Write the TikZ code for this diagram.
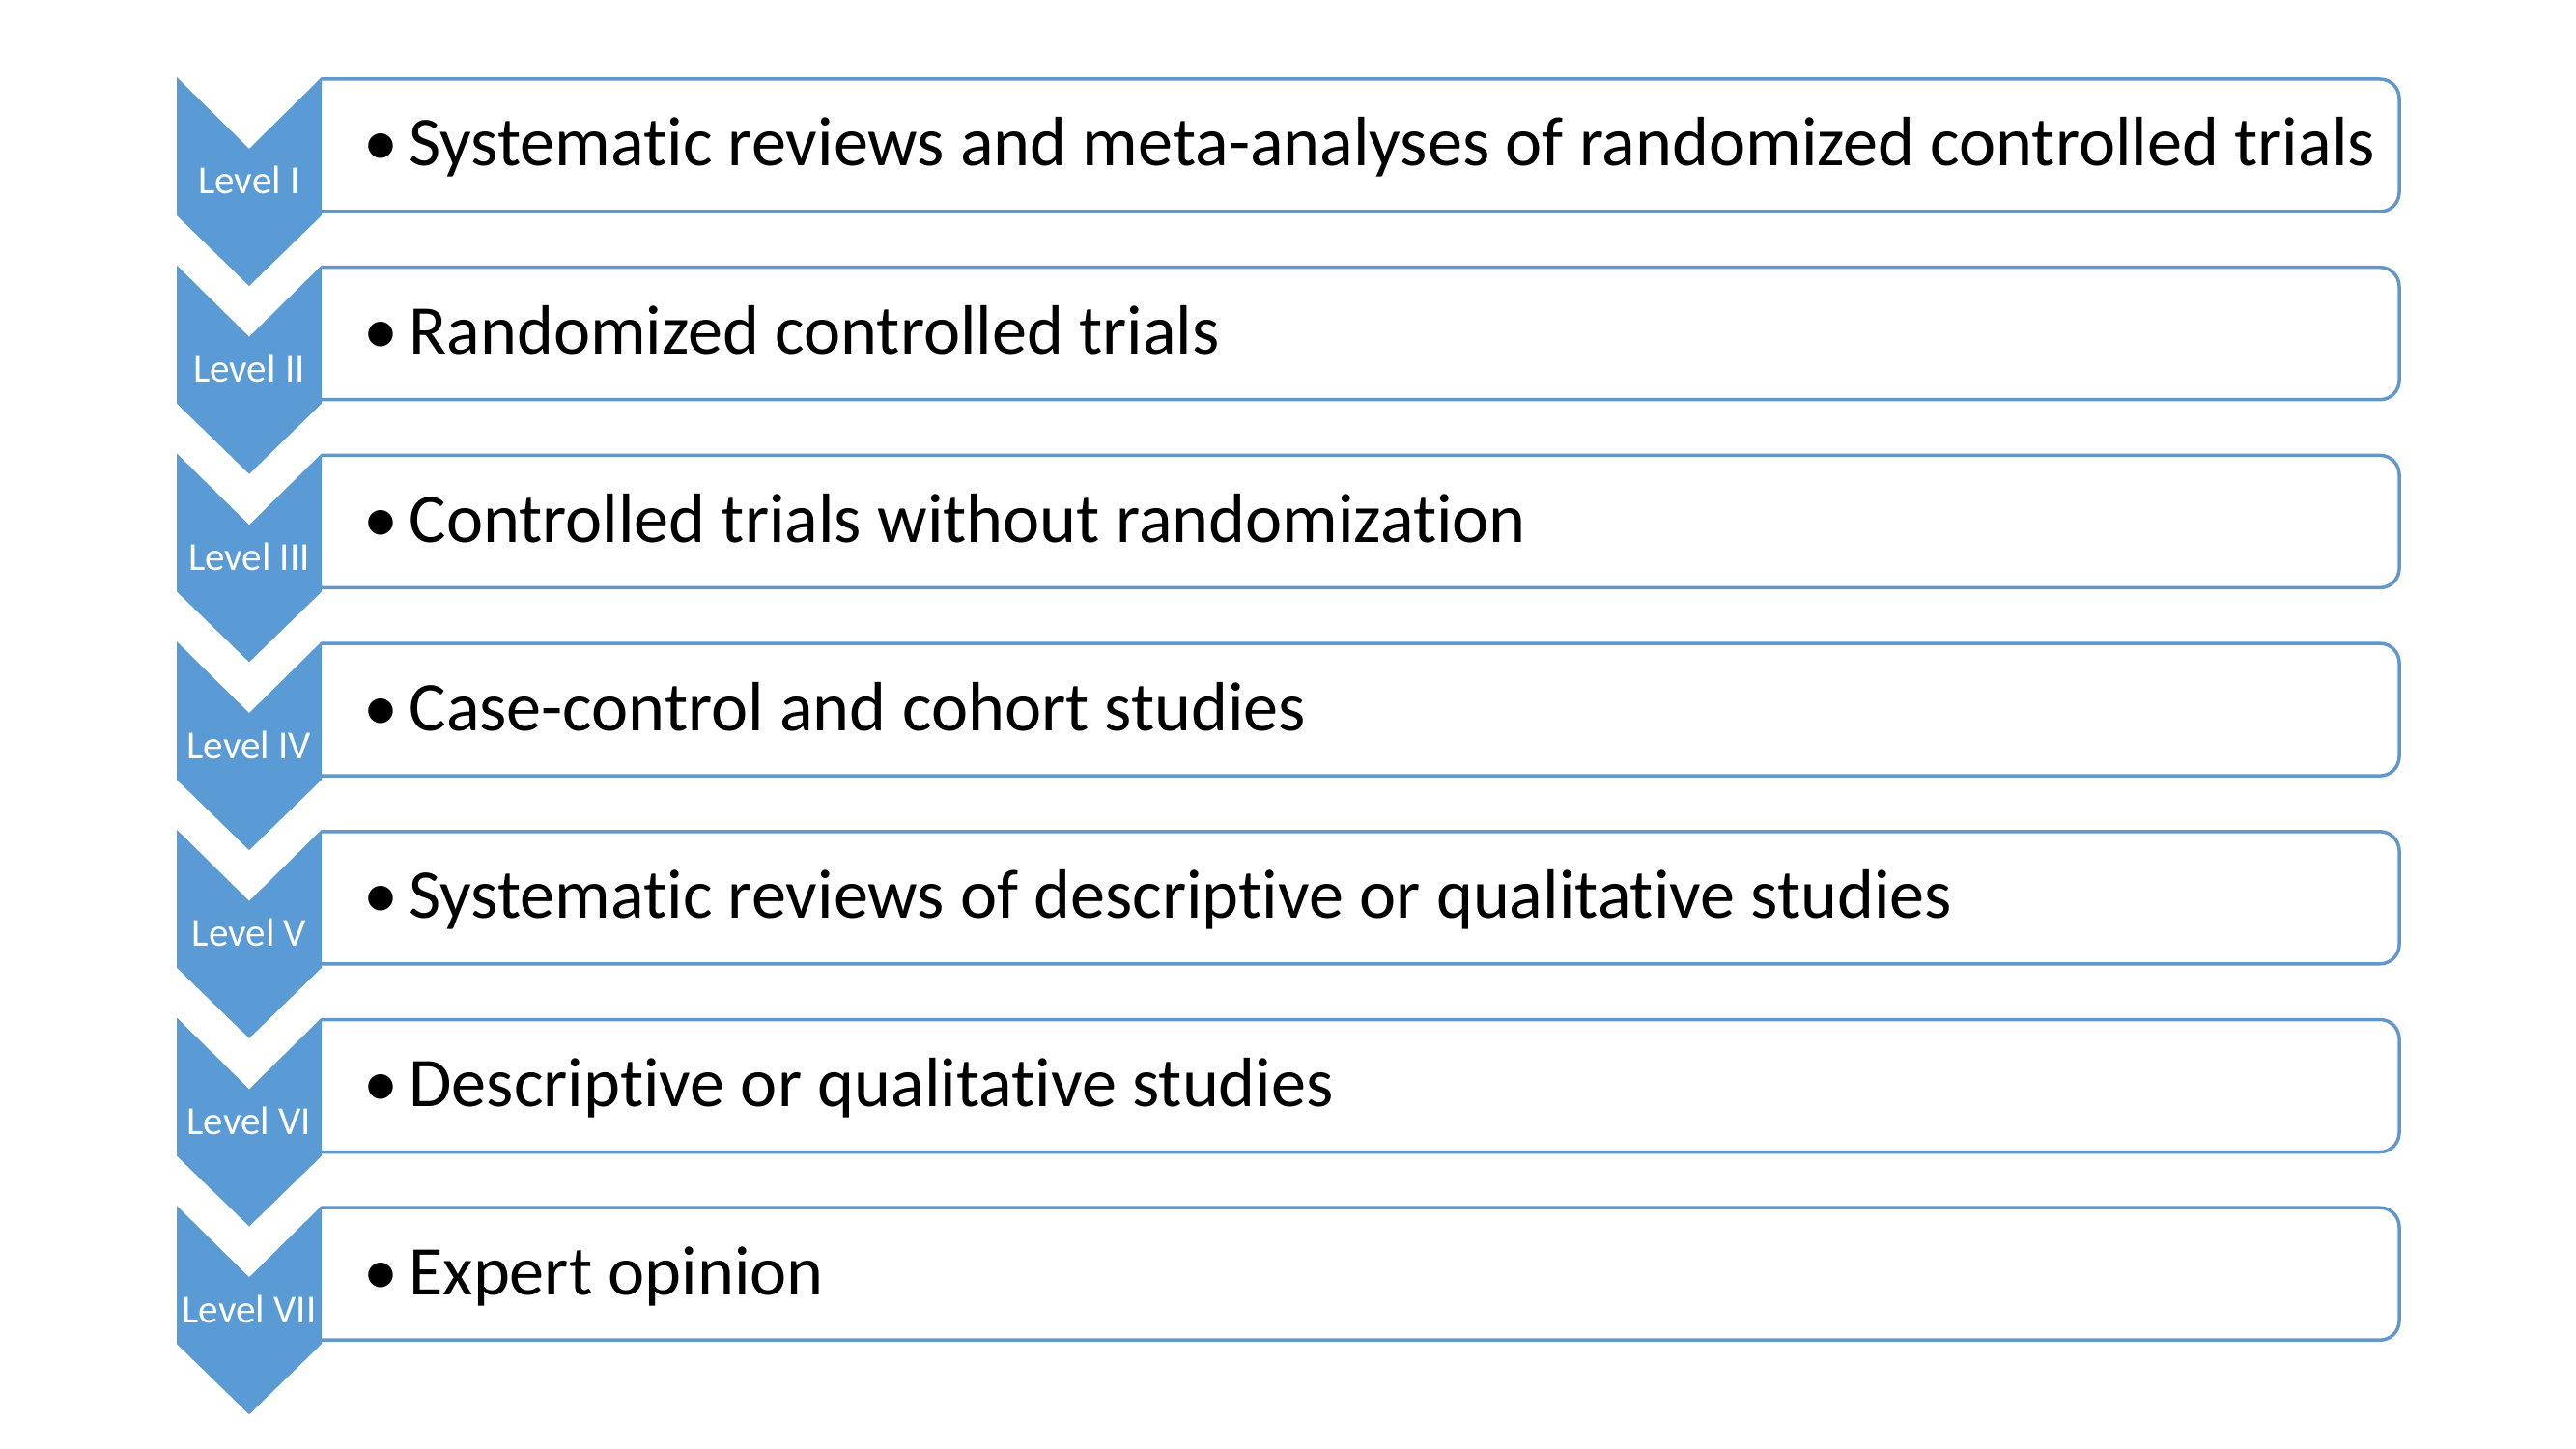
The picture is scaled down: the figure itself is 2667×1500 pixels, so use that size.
\documentclass[tikz,border=0pt]{standalone}
\usepackage{fontspec}
\setmainfont{Carlito}[Ligatures={NoCommon}]
\definecolor{chevblue}{RGB}{91,155,213}
\definecolor{boxblue}{RGB}{98,151,204}
\tikzset{
  chevron/.style={fill=chevblue, draw=none},
  itembox/.style={draw=boxblue, fill=white, line width=1.26pt, rounded corners=7.2pt},
  levellabel/.style={text=white, font=\fontsize{14.8}{17}\selectfont, inner sep=0pt, anchor=base},
  itemtext/.style={text=black, font=\fontsize{26}{30}\selectfont, inner sep=0pt, anchor=base west},
}
\begin{document}
\begin{tikzpicture}[x=0.36pt, y=-0.36pt]
\useasboundingbox (0,0) rectangle (2667,1500);
\fill[white] (0,0) rectangle (2667,1500);
\foreach \i/\lab/\txt in {
  0/Level I/Systematic reviews and meta-analyses of randomized controlled trials,
  1/Level II/Randomized controlled trials,
  2/Level III/Controlled trials without randomization,
  3/Level IV/Case-control and cohort studies,
  4/Level V/Systematic reviews of descriptive or qualitative studies,
  5/Level VI/Descriptive or qualitative studies,
  6/Level VII/Expert opinion}{
  \pgfmathsetmacro{\yt}{80+194.7*\i}
  \draw[itembox] (333,\yt+2) -- (2484,\yt+2) -- (2484,\yt+139) -- (333,\yt+139);
  \fill[chevron] (183,\yt) -- (258,\yt+74) -- (333,\yt) -- (333,\yt+143) -- (258,\yt+216) -- (183,\yt+143) -- cycle;
  \coordinate (chev\i) at (258,\yt+108);
  \node[levellabel] (lab\i) at (258,\yt+121) {\lab};
  \node[itemtext] (bul\i) at (376,\yt+92) {•};
  \node[itemtext] (txt\i) at (423,\yt+92) {\txt};
}
\end{tikzpicture}
\end{document}
